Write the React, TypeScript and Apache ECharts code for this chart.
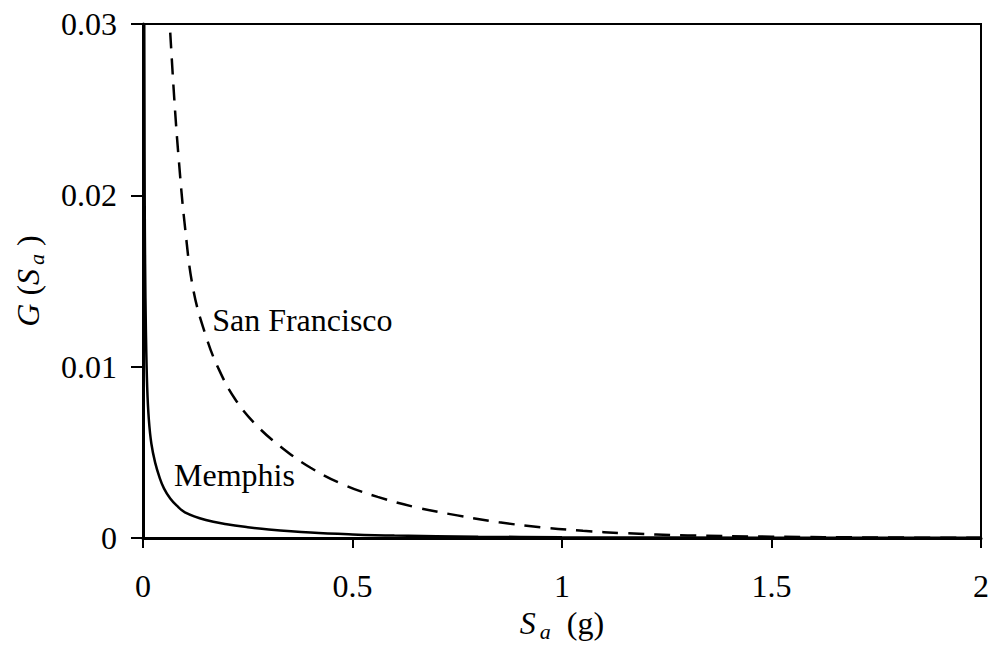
import React, { useEffect, useRef } from "react";
import * as echarts from "echarts";

const memphisS = [0.003, 0.0035, 0.004, 0.005, 0.007, 0.01, 0.014, 0.02, 0.029, 0.04, 0.05, 0.065, 0.08, 0.1, 0.15, 0.2, 0.25, 0.3, 0.4, 0.5, 0.6, 0.8, 1.0, 1.5, 2.0];
const memphisG = [0.03, 0.025, 0.02, 0.016, 0.012, 0.0088, 0.0069, 0.0055, 0.0044, 0.0035, 0.0029, 0.0023, 0.0019, 0.0015, 0.00105, 0.0008, 0.00063, 0.0005, 0.00032, 0.00021, 0.00014, 0.00008, 0.00005, 0.00002, 0.00001];

const sfS = [0.065, 0.075, 0.085, 0.1, 0.12, 0.15, 0.18, 0.22, 0.27, 0.33, 0.4, 0.48, 0.56, 0.65, 0.75, 0.85, 0.95, 1.05, 1.15, 1.3, 1.5, 1.75, 2.0];
const sfG = [0.0295, 0.0255, 0.0222, 0.0182, 0.0145, 0.0118, 0.0099, 0.0081, 0.0066, 0.0053, 0.0041, 0.0031, 0.0024, 0.0018, 0.00132, 0.00092, 0.00062, 0.00042, 0.00028, 0.00015, 0.00008, 0.00003, 0.00001];

const xTicks = { min: 0, max: 2, interval: 0.5 };
const yTicks = { min: 0, max: 0.03, interval: 0.01 };

const memphisLabel = { text: "Memphis", at: [0.074, 0.0037] };
const sfLabel = { text: "San Francisco", at: [0.165, 0.0127] };

const FONT = "Liberation Serif";
const FS = 32;

export default function App() {
  const ref = useRef<HTMLDivElement>(null);
  useEffect(() => {
    if (!ref.current) return;
    const chart = echarts.init(ref.current, null, { renderer: "svg" });
    const mk = (s: number[], g: number[]) => s.map((v, i) => [v, g[i]]);
    const labelPoint = (l: { text: string; at: number[] }) => ({
      symbol: "circle",
      symbolSize: 0,
      silent: true,
      data: [{ coord: l.at, value: l.text }],
      label: {
        show: true,
        position: "right",
        distance: 0,
        formatter: l.text,
        color: "#000",
        fontFamily: FONT,
        fontSize: FS,
      },
    });
    const rich = {
      s: { fontFamily: FONT, fontSize: FS, fontStyle: "italic", color: "#000" },
      sub: { fontFamily: FONT, fontSize: 22, fontStyle: "italic", color: "#000", padding: [16, 0, 0, 4] },
      n: { fontFamily: FONT, fontSize: FS, color: "#000" },
    };
    chart.setOption({
      animation: false,
      backgroundColor: "#fff",
      textStyle: { fontFamily: FONT },
      grid: {
        left: 143,
        top: 24,
        right: 10,
        bottom: 109,
        show: true,
        borderColor: "#000",
        borderWidth: 2,
        containLabel: false,
        outerBoundsMode: "none",
      },
      xAxis: {
        type: "value",
        min: xTicks.min,
        max: xTicks.max,
        interval: xTicks.interval,
        splitLine: { show: false },
        axisLine: { show: true, onZero: false, lineStyle: { color: "#000", width: 3 } },
        axisTick: { show: true, inside: false, length: 10, lineStyle: { color: "#000", width: 2 } },
        axisLabel: { color: "#000", fontFamily: FONT, fontSize: FS, margin: 32 },
        name: "{s|S}{sub|a}{n|  (g)}",
        nameLocation: "middle",
        nameGap: 66,
        nameTextStyle: { color: "#000", fontFamily: FONT, fontSize: FS, rich },
      },
      yAxis: {
        type: "value",
        min: yTicks.min,
        max: yTicks.max,
        interval: yTicks.interval,
        splitLine: { show: false },
        axisLine: { show: true, lineStyle: { color: "#000", width: 3 } },
        axisTick: { show: true, inside: false, length: 12, lineStyle: { color: "#000", width: 2 } },
        axisLabel: { color: "#000", fontFamily: FONT, fontSize: FS, margin: 26 },
        name: "{s|G} {n|(}{s|S}{sub|a}{n| )}",
        nameLocation: "middle",
        nameGap: 96,
        nameRotate: 90,
        nameTextStyle: { color: "#000", fontFamily: FONT, fontSize: FS, rich },
      },
      series: [
        {
          name: "Memphis",
          type: "line",
          data: mk(memphisS, memphisG),
          symbol: "none",
          smooth: 0.4,
          lineStyle: { color: "#000", width: 2.5 },
          markPoint: labelPoint(memphisLabel),
          z: 3,
        },
        {
          name: "San Francisco",
          type: "line",
          data: mk(sfS, sfG),
          symbol: "none",
          smooth: 0.4,
          lineStyle: { color: "#000", width: 2.5, type: [16, 10] },
          markPoint: labelPoint(sfLabel),
          z: 3,
        },
      ],
    });
    return () => chart.dispose();
  }, []);
  return (
    <div
      ref={ref}
      style={{ position: "fixed", left: 0, top: 0, width: 991, height: 647 }}
    />
  );
}
